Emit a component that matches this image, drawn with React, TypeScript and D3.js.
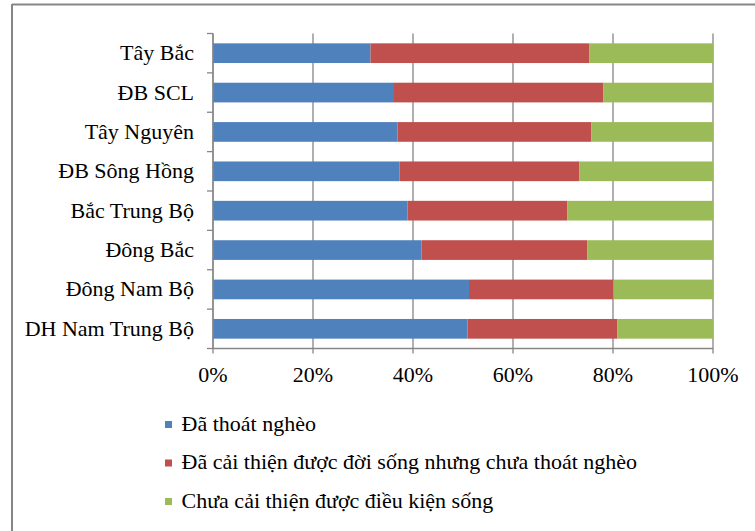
import React from "react";
import * as d3 from "d3";

const categories = [
  "Tây Bắc",
  "ĐB SCL",
  "Tây Nguyên",
  "ĐB Sông Hồng",
  "Bắc Trung Bộ",
  "Đông Bắc",
  "Đông Nam Bộ",
  "DH Nam Trung Bộ",
];
const daThoatNgheo = [31.5, 36.2, 36.9, 37.3, 38.9, 41.7, 51.2, 50.9];
const daCaiThien = [43.8, 41.9, 38.8, 36.0, 32.0, 33.2, 28.9, 30.0];
const chuaCaiThien = [24.7, 21.9, 24.3, 26.7, 29.1, 25.1, 19.9, 19.1];
const seriesNames = [
  "Đã thoát nghèo",
  "Đã cải thiện được đời sống nhưng chưa thoát nghèo",
  "Chưa cải thiện được điều kiện sống",
];
const seriesColors = ["#4F81BD", "#C0504D", "#9BBB59"];
const xTicks = [0, 0.2, 0.4, 0.6, 0.8, 1];

export default function App() {
  const W = 755;
  const H = 531;
  const left = 213;
  const right = 713;
  const top = 33.5;
  const bottom = 348.5;
  const rows = categories.map((c, i) => {
    const tot = daThoatNgheo[i] + daCaiThien[i] + chuaCaiThien[i];
    return {
      cat: c,
      a: daThoatNgheo[i] / tot,
      b: daCaiThien[i] / tot,
      c: chuaCaiThien[i] / tot,
    };
  });
  const stack = d3.stack<any>().keys(["a", "b", "c"])(rows);
  const x = d3.scaleLinear().domain([0, 1]).range([left, right]);
  const y = d3
    .scaleBand<string>()
    .domain(categories)
    .range([top, bottom])
    .paddingInner(0.5)
    .paddingOuter(0.25);
  const band = d3.scaleBand<string>().domain(categories).range([top, bottom]);
  const fmt = d3.format(".0%");
  const gray = "#868686";
  const ts: React.CSSProperties = { fontFamily: "Liberation Serif", fontSize: "22px" };

  return (
    <svg
      width={W}
      height={H}
      style={{ position: "absolute", left: 0, top: 0, background: "#fff", fontFamily: "Liberation Serif" }}
    >
      <style>{`text { font-family: "Liberation Serif"; font-size: 22px; }`}</style>
      <rect x={0} y={0} width={W} height={H} fill="#fff" />
      <line x1={12} x2={W} y1={4.5} y2={4.5} stroke={gray} strokeWidth={2} />
      <line x1={12} x2={12} y1={4} y2={H} stroke={gray} strokeWidth={2} />

      {xTicks.map((t) => (
        <line
          key={"g" + t}
          x1={x(t)}
          x2={x(t)}
          y1={top}
          y2={bottom + 5}
          stroke={gray}
          strokeWidth={1.3}
        />
      ))}

      {stack.map((s, si) =>
        s.map((d, i) => (
          <rect
            key={si + "-" + i}
            x={x(d[0])}
            y={y(categories[i])!}
            width={x(d[1]) - x(d[0])}
            height={y.bandwidth()}
            fill={seriesColors[si]}
          />
        ))
      )}

      <line x1={left} x2={left} y1={top} y2={bottom} stroke={gray} strokeWidth={1.3} />
      {categories.map((c) => (
        <line
          key={"yt" + c}
          x1={left - 6}
          x2={left}
          y1={band(c)!}
          y2={band(c)!}
          stroke={gray}
          strokeWidth={1.3}
        />
      ))}
      <line x1={left - 6} x2={left} y1={bottom} y2={bottom} stroke={gray} strokeWidth={1.3} />
      {categories.map((c) => (
        <text
          key={"yl" + c}
          x={194}
          y={band(c)! + band.bandwidth() / 2 + 7}
          textAnchor="end"
          style={ts}
          fill="#000"
        >
          {c}
        </text>
      ))}

      <line x1={left} x2={right} y1={bottom} y2={bottom} stroke={gray} strokeWidth={1.3} />
      {xTicks.map((t) => (
        <text key={"xl" + t} x={x(t)} y={382} textAnchor="middle" style={ts} fill="#000">
          {fmt(t)}
        </text>
      ))}

      {seriesNames.map((n, i) => (
        <g key={n} transform={`translate(165, ${421 + i * 38.5})`}>
          <rect x={0} y={0} width={7} height={7} fill={seriesColors[i]} />
          <text x={16.5} y={9.5} style={ts} fill="#000">
            {n}
          </text>
        </g>
      ))}
    </svg>
  );
}
